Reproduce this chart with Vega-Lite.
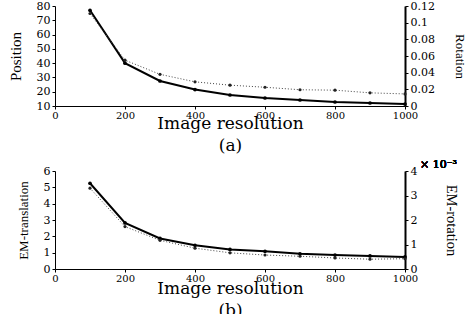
{
  "$schema": "https://vega.github.io/schema/vega-lite/v6.json",
  "background": "white",
  "padding": {"left": 8, "top": 0, "right": 30, "bottom": 10},
  "datasets": {
    "d": [
      {"res": 100, "pos": 77, "rot": 0.111, "emt": 5.25, "emr": 0.0033},
      {"res": 200, "pos": 40, "rot": 0.055, "emt": 2.82, "emr": 0.00173},
      {"res": 300, "pos": 27.5, "rot": 0.038, "emt": 1.87, "emr": 0.00117},
      {"res": 400, "pos": 21.5, "rot": 0.029, "emt": 1.45, "emr": 0.00085},
      {"res": 500, "pos": 17.7, "rot": 0.025, "emt": 1.2, "emr": 0.00066},
      {"res": 600, "pos": 15.6, "rot": 0.0225, "emt": 1.08, "emr": 0.00057},
      {"res": 700, "pos": 14.2, "rot": 0.0195, "emt": 0.93, "emr": 0.00052},
      {"res": 800, "pos": 12.8, "rot": 0.019, "emt": 0.85, "emr": 0.00045},
      {"res": 900, "pos": 12.1, "rot": 0.0158, "emt": 0.8, "emr": 0.0004},
      {"res": 1000, "pos": 11.4, "rot": 0.0145, "emt": 0.74, "emr": 0.00042}
    ]
  },
  "data": {"name": "d"},
  "bounds": "flush",
  "spacing": 65,
  "vconcat": [
    {
      "width": 350,
      "height": 100,
      "layer": [
        {
          "mark": {"type": "line", "color": "black", "strokeWidth": 2, "point": {"filled": true, "size": 14, "color": "black"}},
          "encoding": {
            "x": {"field": "res", "type": "quantitative", "scale": {"domain": [0, 1000], "nice": false},
                  "axis": {"values": [0, 200, 400, 600, 800, 1000], "format": "d", "title": ["Image resolution", "(a)"]}},
            "y": {"field": "pos", "type": "quantitative", "scale": {"domain": [10, 80], "nice": false},
                  "axis": {"orient": "left", "values": [10, 20, 30, 40, 50, 60, 70, 80], "title": "Position", "titleFontSize": 15, "titlePadding": 13}}
          }
        },
        {
          "mark": {"type": "line", "color": "#444444", "strokeWidth": 1, "strokeDash": [1, 2], "point": {"filled": true, "size": 10, "color": "#222222"}},
          "encoding": {
            "x": {"field": "res", "type": "quantitative"},
            "y": {"field": "rot", "type": "quantitative", "scale": {"domain": [0, 0.12], "nice": false},
                  "axis": {"orient": "right", "values": [0, 0.02, 0.04, 0.06, 0.08, 0.1, 0.12], "labelExpr": "format(datum.value, '~g')", "title": "Rotation", "titleFontSize": 13, "titlePadding": 18, "domainWidth": 2}}
          }
        }
      ],
      "resolve": {"scale": {"y": "independent"}}
    },
    {
      "width": 350,
      "height": 98,
      "layer": [
        {
          "mark": {"type": "line", "color": "black", "strokeWidth": 2, "point": {"filled": true, "size": 14, "color": "black"}},
          "encoding": {
            "x": {"field": "res", "type": "quantitative", "scale": {"domain": [0, 1000], "nice": false},
                  "axis": {"values": [0, 200, 400, 600, 800, 1000], "format": "d", "title": ["Image resolution", "(b)"], "titlePadding": -3}},
            "y": {"field": "emt", "type": "quantitative", "scale": {"domain": [0, 6], "nice": false},
                  "axis": {"orient": "left", "values": [0, 1, 2, 3, 4, 5, 6], "title": "EM-translation", "titleFontSize": 13, "titlePadding": 13}}
          }
        },
        {
          "mark": {"type": "line", "color": "#444444", "strokeWidth": 1, "strokeDash": [1, 2], "point": {"filled": true, "size": 10, "color": "#222222"}},
          "encoding": {
            "x": {"field": "res", "type": "quantitative"},
            "y": {"field": "emr", "type": "quantitative", "scale": {"domain": [0, 0.004], "nice": false},
                  "axis": {"orient": "right", "values": [0, 0.001, 0.002, 0.003, 0.004], "labelExpr": "format(datum.value*1000, 'd')", "title": "EM-rotation", "titleFontSize": 14.5, "titlePadding": 27, "domainWidth": 2}}
          }
        },
        {
          "mark": {"type": "text", "text": "× 10⁻³", "align": "left", "baseline": "middle", "dx": 15, "dy": -6, "font": "DejaVu Serif", "fontSize": 11},
          "encoding": {"x": {"datum": 1000, "type": "quantitative"}, "y": {"datum": 0.004, "type": "quantitative", "scale": {"domain": [0, 0.004]}, "axis": null}}
        }
      ],
      "resolve": {"scale": {"y": "independent"}}
    }
  ],
  "config": {
    "view": {"stroke": null},
    "axis": {
      "grid": false,
      "domainColor": "black",
      "tickColor": "black",
      "tickSize": 3,
      "labelFont": "DejaVu Serif",
      "labelFontSize": 11,
      "labelColor": "black",
      "labelPadding": 2,
      "titleFont": "Liberation Serif",
      "titleFontWeight": "normal",
      "titleColor": "black"
    },
    "axisX": {"titleFont": "DejaVu Serif", "titleFontSize": 17, "titleLineHeight": 22, "titlePadding": -5, "labelFontSize": 10, "labelPadding": 1, "labelFlush": false, "labelOverlap": false},
    "axisY": {"labelOverlap": false}
  }
}
